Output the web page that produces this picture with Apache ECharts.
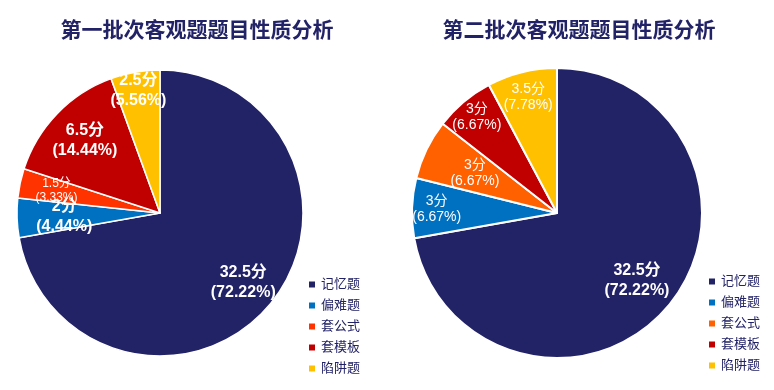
<!DOCTYPE html>
<html><head><meta charset="utf-8">
<script src="https://cdn.jsdelivr.net/npm/echarts@6/dist/echarts.min.js"></script>
<style>html,body{margin:0;padding:0;background:#fff}#c{width:774px;height:390px}</style>
</head><body><div id="c"></div>
<script>
// ---- data ----
const categories = ['记忆题', '偏难题', '套公式', '套模板', '陷阱题'];
const batch1Scores = [32.5, 2, 1.5, 6.5, 2.5];
const batch2Scores = [32.5, 3, 3, 3, 3.5];
const titles = ['第一批次客观题题目性质分析', '第二批次客观题题目性质分析'];

// ---- styles / layout ----
const FONT = '"Liberation Sans", Arial, "Noto Sans CJK SC", sans-serif';
const NAVY = '#222266';
const colors1 = ['#222266', '#0070C0', '#FF3300', '#C00000', '#FFC000'];
const colors2 = ['#222266', '#0070C0', '#FF6000', '#C00000', '#FFC000'];
const labelFrac1 = [0.76, 0.67, 0.74, 0.73, 0.87];
const labelFrac2 = [0.72, 0.83, 0.63, 0.86, 0.82];
const labelFont1 = [[16, 'bold', 20], [16, 'bold', 20], [12, 'normal', 14], [16, 'bold', 20], [16, 'bold', 20]];
const labelFont2 = [[16, 'bold', 20], [14, 'normal', 16], [14, 'normal', 16], [14, 'normal', 16], [14, 'normal', 16]];

function buildPie(center, R, values, colors, fracs, fonts, borderW) {
  const total = values.reduce((a, b) => a + b, 0);
  const series = [];
  series.push({
    type: 'pie', center: center, radius: [0, R], startAngle: 90, clockwise: true,
    label: { show: false }, labelLine: { show: false }, silent: true,
    emphasis: { disabled: true },
    itemStyle: { borderColor: '#fff', borderWidth: borderW },
    data: values.map((v, j) => ({ name: categories[j], value: v, itemStyle: { color: colors[j] } }))
  });
  values.forEach((_, i) => {
    series.push({
      type: 'pie', center: center, radius: [0, fracs[i] * R], startAngle: 90, clockwise: true,
      silent: true, emphasis: { disabled: true }, avoidLabelOverlap: false,
      itemStyle: { color: 'rgba(0,0,0,0)', borderWidth: 0 },
      labelLine: { show: false, length: 0, length2: 0 },
      labelLayout: { align: 'center', verticalAlign: 'middle', hideOverlap: false, moveOverlap: null },
      label: {
        show: false, position: 'outside', alignTo: 'none', edgeDistance: 0, distanceToLabelLine: 0,
        color: '#fff', fontFamily: FONT, overflow: 'none',
        fontSize: fonts[i][0], fontWeight: fonts[i][1], lineHeight: fonts[i][2],
        formatter: p => p.value + '分\n(' + (p.value / total * 100).toFixed(2) + '%)'
      },
      data: values.map((v, j) => ({ name: categories[j], value: v, label: { show: j === i } }))
    });
  });
  return series;
}

function buildLegend(left, top, colors) {
  return {
    orient: 'vertical', left: left, top: top, padding: 0,
    itemWidth: 8, itemHeight: 8, itemGap: 8, icon: 'rect',
    selectedMode: false,
    textStyle: { color: NAVY, fontSize: 13, fontFamily: FONT },
    data: categories.map((c, j) => ({ name: c, itemStyle: { color: colors[j] } }))
  };
}

const chart = echarts.init(document.getElementById('c'), null, { renderer: 'canvas' });
chart.setOption({
  animation: false,
  backgroundColor: '#fff',
  title: [
    { text: titles[0], left: 197, top: 21, textAlign: 'center', padding: 0,
      textStyle: { color: NAVY, fontSize: 21, fontWeight: 'bold', fontFamily: FONT } },
    { text: titles[1], left: 579, top: 21, textAlign: 'center', padding: 0,
      textStyle: { color: NAVY, fontSize: 21, fontWeight: 'bold', fontFamily: FONT } }
  ],
  legend: [buildLegend(307, 278, colors1), buildLegend(707, 275, colors2)],
  series: [].concat(
    buildPie([160, 213], 143, batch1Scores, colors1, labelFrac1, labelFont1, 1.5),
    buildPie([557, 213], 145, batch2Scores, colors2, labelFrac2, labelFont2, 2)
  )
});
</script>
</body></html>
